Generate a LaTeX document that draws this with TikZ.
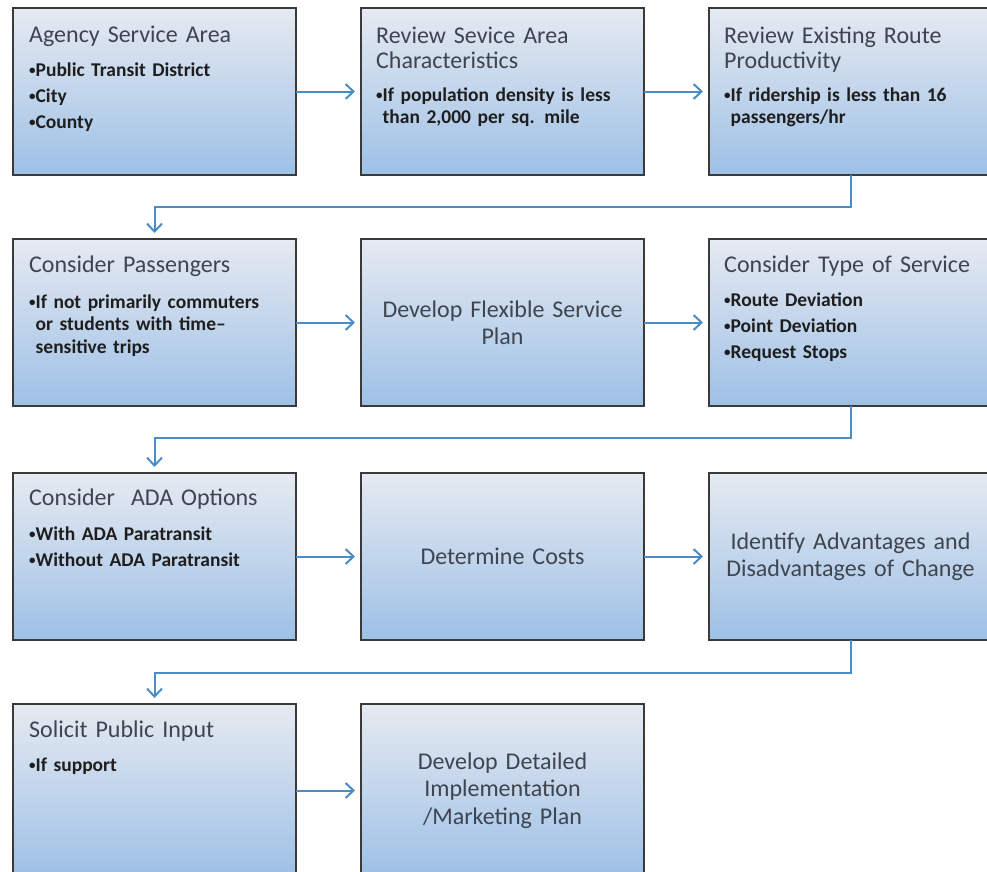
\documentclass[tikz,border=0pt]{standalone}
\usepackage{fontspec}
\setmainfont{Carlito}
\usetikzlibrary{arrows.meta,calc}
\definecolor{lineblue}{HTML}{4A8CC6}
\definecolor{boxtop}{HTML}{E6EAF1}
\definecolor{boxmid}{HTML}{C4D7EC}
\definecolor{boxbot}{HTML}{9DC0E6}
\definecolor{edgegray}{HTML}{3A3A3A}
\definecolor{ttlcol}{HTML}{3E4550}
\definecolor{bulcol}{HTML}{1E1E1E}
\newcommand{\bdot}{\raisebox{1.6pt}{\fontsize{13}{13}\selectfont •}}
\newcommand{\bsp}{\hphantom{\bdot}}
\tikzset{
  box/.style={draw=edgegray, line width=1.5pt, top color=boxtop, middle color=boxmid, bottom color=boxbot,
    minimum width=283pt, minimum height=167pt, anchor=north west, inner sep=0pt, outer sep=0pt},
  lastbox/.style={box, minimum height=173pt},
  ttl/.style={anchor=base west, inner sep=0pt, text width=265pt, align=left, text=ttlcol,
    font=\fontsize{24}{25.5}\selectfont},
  bul/.style={anchor=base west, inner sep=0pt, text width=265pt, align=left, text=bulcol,
    font=\fontsize{19.5}{22.5}\selectfont\bfseries},
  ctr/.style={anchor=center, inner sep=0pt, text width=265pt, align=center, text=ttlcol,
    font=\fontsize{24}{27.5}\selectfont},
  flow/.style={draw=lineblue, line width=2pt, shorten >=6pt, -{Straight Barb[length=8pt,width=15pt]}},
}
\begin{document}
\begin{tikzpicture}[x=1pt,y=-1pt]
\useasboundingbox (0,0) rectangle (987,871);
% boxes
\node[box] (b1) at (13,8) {};
\node[box] (b2) at (361,8) {};
\node[box] (b3) at (709,8) {};
\node[box] (b4) at (13,239) {};
\node[box] (b5) at (361,239) {};
\node[box] (b6) at (709,239) {};
\node[box] (b7) at (13,473) {};
\node[box] (b8) at (361,473) {};
\node[box] (b9) at (709,473) {};
\node[lastbox] (b10) at (13,704) {};
\node[lastbox] (b11) at (361,704) {};
% row 1 texts
\node[ttl] (t1) at ($(b1.north west)+(16,34)$) {Agency Service Area};
\node[bul] (u1) at ($(b1.north west)+(16,68)$) {\bdot Public Transit District\\[3.5pt]\bdot City\\[3.5pt]\bdot County};
\node[ttl] (t2) at ($(b2.north west)+(15,35)$) {Review Sevice Area\\Characteristics};
\node[bul] (u2) at ($(b2.north west)+(15,93)$) {\bdot If population density is less\\\bsp than 2,000 per sq. mile};
\node[ttl] (t3) at ($(b3.north west)+(15,35)$) {Review Existing Route\\Productivity};
\node[bul] (u3) at ($(b3.north west)+(15,93)$) {\bdot If ridership is less than 16\\\bsp passengers/hr};
% row 2 texts
\node[ttl] (t4) at ($(b4.north west)+(16,33)$) {Consider Passengers};
\node[bul] (u4) at ($(b4.north west)+(16,69)$) {\bdot If not primarily commuters\\\bsp or students with time–\\\bsp sensitive trips};
\node[ctr] (t5) at (b5.center) {Develop Flexible Service\\Plan};
\node[ttl] (t6) at ($(b6.north west)+(15,33)$) {Consider Type of Service};
\node[bul] (u6) at ($(b6.north west)+(15,67)$) {\bdot Route Deviation\\[3.5pt]\bdot Point Deviation\\[3.5pt]\bdot Request Stops};
% row 3 texts
\node[ttl] (t7) at ($(b7.north west)+(16,32)$) {Consider\ \ ADA Options};
\node[bul] (u7) at ($(b7.north west)+(16,67)$) {\bdot With ADA Paratransit\\[3.5pt]\bdot Without ADA Paratransit};
\node[ctr] (t8) at (b8.center) {Determine Costs};
\node[ctr] (t9) at (b9.center) {Identify Advantages and\\Disadvantages of Change};
% row 4 texts
\node[ttl] (t10) at ($(b10.north west)+(16,33)$) {Solicit Public Input};
\node[bul] (u10) at ($(b10.north west)+(16,67)$) {\bdot If support};
\node[ctr] (t11) at (b11.center) {Develop Detailed\\Implementation\\/Marketing Plan};
% connectors
\coordinate (c1) at ($(b3.south)+(0,32)$);
\coordinate (c2) at ($(b6.south)+(0,32)$);
\coordinate (c3) at ($(b9.south)+(0,33)$);
\draw[flow] (b1.east) -- (b2.west);
\draw[flow] (b2.east) -- (b3.west);
\draw[flow] (b3.south) -- (c1) -| (b4.north);
\draw[flow] (b4.east) -- (b5.west);
\draw[flow] (b5.east) -- (b6.west);
\draw[flow] (b6.south) -- (c2) -| (b7.north);
\draw[flow] (b7.east) -- (b8.west);
\draw[flow] (b8.east) -- (b9.west);
\draw[flow] (b9.south) -- (c3) -| (b10.north);
\draw[flow] (b10.east) -- (b11.west);
\end{tikzpicture}
\end{document}
